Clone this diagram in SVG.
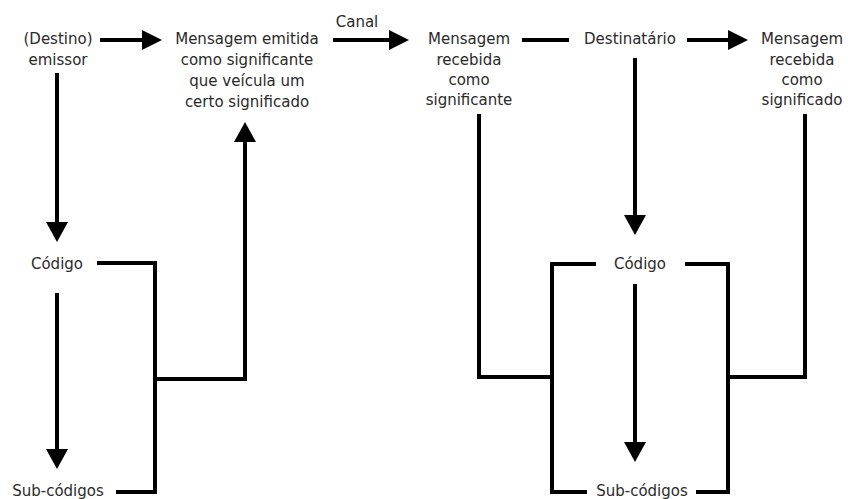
<svg xmlns="http://www.w3.org/2000/svg" width="848" height="499" viewBox="0 0 848 499">
<style>
.t{font-family:"DejaVu Sans","Liberation Sans",sans-serif;font-size:15px;fill:#2a2a2a;text-anchor:middle}
.c{fill:none;stroke:#000;stroke-width:4;stroke-linejoin:miter;stroke-linecap:butt}
</style>
<defs>
<marker id="ah" markerUnits="userSpaceOnUse" markerWidth="22" markerHeight="22" refX="1" refY="10" orient="auto">
<path d="M0,0 L20,10 L0,20 z" fill="#000"/>
</marker>
<marker id="av" markerUnits="userSpaceOnUse" markerWidth="22" markerHeight="24" refX="1" refY="11" orient="auto">
<path d="M0,0 L20,11 L0,22 z" fill="#000"/>
</marker>
</defs>
<rect width="848" height="499" fill="#fff"/>
<g id="connectors">
<path class="c" d="M100,40 H143" marker-end="url(#ah)"/>
<path class="c" d="M333,40 H390" marker-end="url(#ah)"/>
<path class="c" d="M522,40 H569"/>
<path class="c" d="M687,40 H729" marker-end="url(#ah)"/>
<path class="c" d="M57,73 V223" marker-end="url(#av)"/>
<path class="c" d="M57,293 V450" marker-end="url(#av)"/>
<path class="c" d="M97,263 H155 V492 H116"/>
<path class="c" d="M155,379 H245 V141" marker-end="url(#av)"/>
<path class="c" d="M635,58 V216" marker-end="url(#av)"/>
<path class="c" d="M635,284 V443" marker-end="url(#av)"/>
<path class="c" d="M479,114 V377 H552"/>
<path class="c" d="M596,264 H552 V492 H587"/>
<path class="c" d="M685,264 H728 V492 H696"/>
<path class="c" d="M728,377 H805 V114"/>
</g>
<g id="canal"><text class="t" x="357" y="27">Canal</text></g>
<g id="emissor"><text class="t" x="58" y="44">(Destino)</text><text class="t" x="58" y="65">emissor</text></g>
<g id="mensagem-emitida">
<text class="t" x="247" y="44">Mensagem emitida</text>
<text class="t" x="247" y="65">como significante</text>
<text class="t" x="247" y="86">que veícula um</text>
<text class="t" x="247" y="107">certo significado</text>
</g>
<g id="codigo-emissor"><text class="t" x="57" y="269">Código</text></g>
<g id="subcodigos-emissor"><text class="t" x="58" y="496">Sub-códigos</text></g>
<g id="mensagem-significante">
<text class="t" x="469" y="44">Mensagem</text>
<text class="t" x="469" y="65">recebida</text>
<text class="t" x="469" y="85">como</text>
<text class="t" x="469" y="105">significante</text>
</g>
<g id="destinatario"><text class="t" x="630" y="44">Destinatário</text></g>
<g id="mensagem-significado">
<text class="t" x="802" y="44">Mensagem</text>
<text class="t" x="802" y="65">recebida</text>
<text class="t" x="802" y="85">como</text>
<text class="t" x="802" y="105">significado</text>
</g>
<g id="codigo-destinatario"><text class="t" x="640" y="269">Código</text></g>
<g id="subcodigos-destinatario"><text class="t" x="642" y="496">Sub-códigos</text></g>
</svg>
